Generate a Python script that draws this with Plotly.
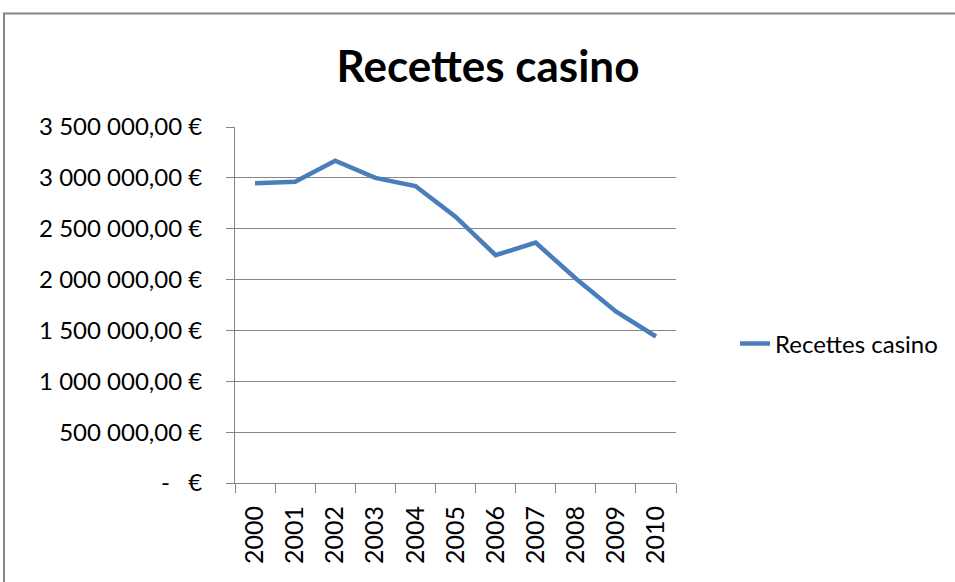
import plotly.graph_objects as go

years = ["2000", "2001", "2002", "2003", "2004", "2005", "2006", "2007", "2008", "2009", "2010"]
recettes = [2946000, 2962000, 3169000, 3000000, 2920000, 2618000, 2240000, 2363000, 2010000, 1686000, 1440000]
ytick_vals = [0, 500000, 1000000, 1500000, 2000000, 2500000, 3000000, 3500000]
ytick_text = ["-\u00a0\u00a0\u00a0€", "500 000,00 €", "1 000 000,00 €", "1 500 000,00 €",
              "2 000 000,00 €", "2 500 000,00 €", "3 000 000,00 €", "3 500 000,00 €"]

FONT = "Lato"
GRID = "#868686"

fig = go.Figure()
fig.add_trace(go.Scatter(
    x=years, y=recettes, mode="lines", name="Recettes casino",
    line=dict(color="#4A7EBB", width=4.5),
))

W, H = 955, 582
L, R, T, B = 235, 279, 127, 99
pw, ph = W - L - R, H - T - B

def px_x(p):
    return (p - L) / pw

def px_y(p):
    return (H - B - p) / ph

fig.update_layout(
    width=W, height=H,
    margin=dict(l=L, r=R, t=T, b=B, autoexpand=False),
    paper_bgcolor="white", plot_bgcolor="white",
    font=dict(family=FONT, size=24, color="#000000"),
    title=dict(text="<b>Recettes casino</b>", font=dict(family=FONT, size=44, color="#000000"),
               xref="container", x=488 / W, xanchor="center",
               yref="container", y=1 - 67 / H, yanchor="middle"),
    showlegend=True,
    legend=dict(x=px_x(735), y=px_y(344), xanchor="left", yanchor="middle",
                font=dict(family=FONT, size=24, color="#000000"),
                bgcolor="rgba(0,0,0,0)"),
    xaxis=dict(type="category", range=[-0.5, 10.5], showgrid=False,
               showline=True, linecolor=GRID, linewidth=1,
               ticks="outside", tickson="boundaries", ticklen=9, tickcolor=GRID,
               tickangle=-90, ticklabelstandoff=12,
               tickfont=dict(family=FONT, size=25, color="#000000")),
    yaxis=dict(range=[0, 3500000], tickvals=ytick_vals, ticktext=ytick_text,
               showgrid=True, gridcolor=GRID, gridwidth=1, zeroline=False,
               showline=True, linecolor=GRID, linewidth=1,
               ticks="outside", ticklen=8, tickcolor=GRID, ticklabelstandoff=19,
               tickfont=dict(family=FONT, size=24, color="#000000")),
    shapes=[dict(type="rect", xref="paper", yref="paper",
                 x0=px_x(4), y0=-1.0, x1=2.0, y1=px_y(13.5),
                 line=dict(color="#868686", width=2), layer="below")],
)

fig.write_html("out.html", config={"displayModeBar": False},
               post_script="document.body.style.margin='0';document.body.style.overflow='hidden';")
